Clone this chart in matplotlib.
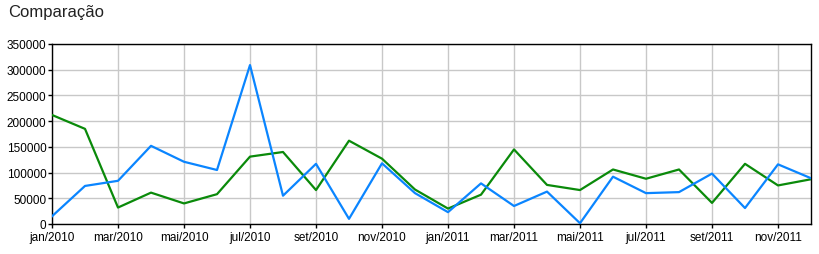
import numpy as np
import matplotlib
matplotlib.use("Agg")
import matplotlib.pyplot as plt

plt.rcParams['font.family'] = ['Liberation Sans', 'DejaVu Sans']

# months jan/2010 .. dez/2011
months = ['jan', 'fev', 'mar', 'abr', 'mai', 'jun',
          'jul', 'ago', 'set', 'out', 'nov', 'dez']
labels = [m + '/' + str(y) for y in (2010, 2011) for m in months]

green = [212000, 185000, 32000, 61000, 40000, 58000,
         131000, 140000, 66000, 162000, 127000, 67000,
         30000, 57000, 145000, 76000, 66000, 106000,
         88000, 106000, 41000, 117000, 75000, 87000]

blue = [15000, 74000, 84000, 152000, 121000, 105000,
        309000, 55000, 117000, 10000, 118000, 60000,
        23000, 79000, 35000, 63000, 1500, 92000,
        60000, 62000, 98000, 31000, 116000, 89000]

fig = plt.figure(figsize=(8.2, 2.55), dpi=100)
ax = fig.add_axes([52/820, 30/255, (811-52)/820, 180/255])

x = np.arange(len(labels))
ax.plot(x, green, color='#0a8a0a', lw=1.6, zorder=3)
ax.plot(x, blue, color='#0a85ff', lw=1.6, zorder=3)

ax.set_xlim(0, len(labels) - 1)
ax.set_ylim(0, 350000)
ax.set_yticks(np.arange(0, 350001, 50000))
ax.set_xticks(x[::2])
ax.set_xticklabels(labels[::2])
ax.grid(True, color='#c8c8c8', lw=1)
ax.set_axisbelow(True)
ax.tick_params(length=3, width=1, labelsize=8.5, colors='black')
ax.tick_params(axis='y', pad=1)
ax.tick_params(axis='x', pad=2)
for sp in ax.spines.values():
    sp.set_color('black')
    sp.set_linewidth(1)

fig.text(8/820, 1 - 12/255, 'Comparação', fontsize=12, va='center', ha='left', color='#222222')

fig.savefig('out.png', dpi=100)
